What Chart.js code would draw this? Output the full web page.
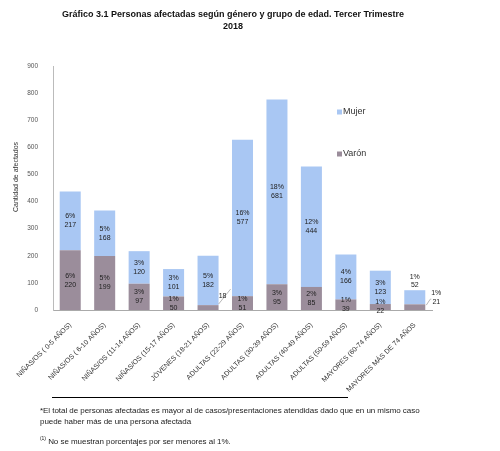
<!DOCTYPE html>
<html>
<head>
<meta charset="utf-8">
<script src="https://cdn.jsdelivr.net/npm/chart.js@4.4.0/dist/chart.umd.min.js"></script>
<style>
body { margin: 0; background: #fff; }
#wrap { position: relative; width: 500px; height: 451px; font-family: "Liberation Sans", Arial, sans-serif; }
canvas { position: absolute; left: 0; top: 0; }
.title { position: absolute; left: 0; width: 466px; top: 8px; text-align: center; font-weight: bold; font-size: 9px; line-height: 12px; color: #111; }
.rule { position: absolute; left: 52px; top: 397px; width: 296px; height: 1px; background: #000; }
.note { position: absolute; left: 40px; font-size: 8px; line-height: 11px; color: #222; letter-spacing: -0.05px; }
</style>
</head>
<body>
<div id="wrap">
  <canvas id="myChart" width="500" height="451"></canvas>
  <div class="title">Gráfico 3.1 Personas afectadas según género y grupo de edad. Tercer Trimestre<br>2018</div>
  <div class="rule"></div>
  <div class="note" style="top:405px">*El total de personas afectadas es mayor al de casos/presentaciones atendidas dado que en un mismo caso<br>puede haber más de una persona afectada</div>
  <div class="note" style="top:433px"><sup style="font-size:5px">(1)</sup> No se muestran porcentajes por ser menores al 1%.</div>
</div>
<script>
var categories = [
    'NIÑAS/OS ( 0-5 AÑOS)',
    'NIÑAS/OS ( 6-10 AÑOS)',
    'NIÑAS/OS (11-14 AÑOS)',
    'NIÑAS/OS (15-17 AÑOS)',
    'JÓVENES (18-21 AÑOS)',
    'ADULTAS (22-29 AÑOS)',
    'ADULTAS (30-39 AÑOS)',
    'ADULTAS (40-49 AÑOS)',
    'ADULTAS (50-59 AÑOS)',
    'MAYORES (60-74 AÑOS)',
    'MAYORES MÁS DE 74 AÑOS'
];
var varon = [220, 199, 97, 50, 18, 51, 95, 85, 39, 22, 21];
var mujer = [217, 168, 120, 101, 182, 577, 681, 444, 166, 123, 52];
var varonPct = ['6%', '5%', '3%', '1%', '', '1%', '3%', '2%', '1%', '1%', '1%'];
var mujerPct = ['6%', '5%', '3%', '3%', '5%', '16%', '18%', '12%', '4%', '3%', '1%'];
var yMax = 900;
var yStep = 100;

var FONT = '"Liberation Sans", Arial, sans-serif';

// data labels: percent over count, centred in each segment
var barLabels = {
    id: 'barLabels',
    afterDatasetsDraw: function(chart) {
        var ctx = chart.ctx;
        ctx.save();
        ctx.font = '7px ' + FONT;
        ctx.fillStyle = '#222';
        ctx.textAlign = 'center';
        ctx.textBaseline = 'middle';
        ctx.strokeStyle = '#999';
        ctx.lineWidth = 0.7;
        chart.data.datasets.forEach(function(ds, i) {
            var meta = chart.getDatasetMeta(i);
            meta.data.forEach(function(bar, j) {
                var pct = ds.pct[j];
                var val = String(ds.data[j]);
                var right = bar.x + bar.width / 2;
                var mid = (bar.y + bar.base) / 2;
                var key = i + '-' + j;
                if (key == '0-4') {
                    // too small, label outside with a leader line
                    ctx.beginPath();
                    ctx.moveTo(right, bar.y - 1);
                    ctx.lineTo(right + 12, bar.y - 16);
                    ctx.stroke();
                    ctx.fillText(val, right + 4, bar.y - 9);
                } else if (key == '0-10') {
                    ctx.beginPath();
                    ctx.moveTo(right + 1, mid - 2);
                    ctx.lineTo(right + 5, mid - 8);
                    ctx.lineTo(right + 6, mid - 8);
                    ctx.stroke();
                    ctx.fillText(pct, right + 11, mid - 14);
                    ctx.fillText(val, right + 11, mid - 5);
                } else if (key == '1-10') {
                    ctx.fillText(pct, bar.x, bar.y - 13);
                    ctx.fillText(val, bar.x, bar.y - 5);
                } else {
                    if (pct) {
                        ctx.fillText(pct, bar.x, mid - 4.5);
                        ctx.fillText(val, bar.x, mid + 4.5);
                    } else {
                        ctx.fillText(val, bar.x, mid);
                    }
                }
            });
        });
        ctx.restore();
    }
};

// legend drawn inside the plot, Mujer on top
var sideLegend = {
    id: 'sideLegend',
    afterDraw: function(chart) {
        var ctx = chart.ctx;
        var items = [chart.data.datasets[1], chart.data.datasets[0]];
        ctx.save();
        ctx.font = '9px ' + FONT;
        ctx.textBaseline = 'middle';
        items.forEach(function(ds, k) {
            var y = 112 + k * 42;
            ctx.fillStyle = ds.backgroundColor;
            ctx.fillRect(337, y - 2.5, 5, 5);
            ctx.fillStyle = '#333';
            ctx.fillText(ds.label, 343, y);
        });
        ctx.restore();
    }
};

// axis title placed a little above the plot centre, as in the source
var yTitle = {
    id: 'yTitle',
    afterDraw: function(chart) {
        var ctx = chart.ctx;
        ctx.save();
        ctx.translate(16, 177);
        ctx.rotate(-Math.PI / 2);
        ctx.font = '7px ' + FONT;
        ctx.fillStyle = '#333';
        ctx.textAlign = 'center';
        ctx.textBaseline = 'middle';
        ctx.fillText('Cantidad de afectados', 0, 0);
        ctx.restore();
    }
};

function createChart() {
    var ctx = document.getElementById('myChart').getContext('2d');
    new Chart(ctx, {
        type: 'bar',
        data: {
            labels: categories,
            datasets: [
                { label: 'Varón', data: varon, pct: varonPct, backgroundColor: '#9b8d9b',
                  barPercentage: 0.61, categoryPercentage: 1 },
                { label: 'Mujer', data: mujer, pct: mujerPct, backgroundColor: '#a9c7f3',
                  barPercentage: 0.61, categoryPercentage: 1 }
            ]
        },
        options: {
            responsive: false,
            animation: false,
            layout: { padding: { top: 66, right: 68, bottom: 41, left: 0 } },
            plugins: {
                legend: { display: false },
                title: { display: false },
                tooltip: { enabled: false }
            },
            scales: {
                x: {
                    stacked: true,
                    grid: { display: false },
                    border: { color: '#aaa' },
                    ticks: {
                        autoSkip: false,
                        minRotation: 45,
                        maxRotation: 45,
                        padding: 3,
                        color: '#333',
                        font: { family: FONT, size: 7 }
                    },
                    afterFit: function(scale) {
                        scale.height = 100;
                        scale.paddingLeft = 0;
                        scale.paddingRight = 0;
                    }
                },
                y: {
                    stacked: true,
                    min: 0,
                    max: yMax,
                    grid: { display: false },
                    border: { color: '#bbb' },
                    ticks: {
                        stepSize: yStep,
                        padding: 7,
                        color: '#555',
                        font: { family: FONT, size: 6.5 }
                    },
                    afterFit: function(scale) {
                        scale.width = 53;
                    }
                }
            }
        },
        plugins: [barLabels, sideLegend, yTitle]
    });
}

createChart();
</script>
</body>
</html>
